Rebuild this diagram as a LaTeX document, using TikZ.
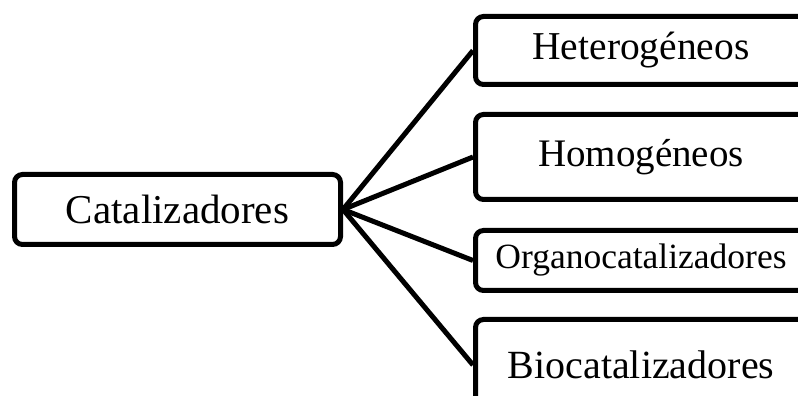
\documentclass[tikz,border=0pt]{standalone}
\usepackage{fontspec}
\setmainfont{Liberation Serif}
\usetikzlibrary{positioning}

\begin{document}
\begin{tikzpicture}[x=1pt,y=1pt]

\tikzset{box/.style = {shape=rectangle,draw,line width=5pt,rounded corners=8pt,inner sep=0pt}}
\tikzset{link/.style = {line width=5pt}}
\path[use as bounding box,clip] (0,0) rectangle (798,396);
% vertices
\node[box,minimum width=326,minimum height=70,font=\fontsize{41}{48}\selectfont] (cat) at (177.5,186.5) {Catalizadores};
\node[box,minimum width=331,minimum height=68,font=\fontsize{39.5}{48}\selectfont] (het) at (641,345.5) {Heterogéneos};
\node[box,minimum width=331,minimum height=85,font=\fontsize{39}{48}\selectfont] (hom) at (641,239) {Homogéneos};
\node[box,minimum width=331,minimum height=60,font=\fontsize{35.5}{44}\selectfont] (org) at (641,135.5) {Organocatalizadores};
\node[box,minimum width=331,minimum height=91,font=\fontsize{40}{48}\selectfont] (bio) at (641,31) {Biocatalizadores};

%edges
\draw[link] (cat.east) to (het.west);
\draw[link] (cat.east) to (hom.west);
\draw[link] (cat.east) to (org.west);
\draw[link] (cat.east) to (bio.west);

\end{tikzpicture}
\end{document}
